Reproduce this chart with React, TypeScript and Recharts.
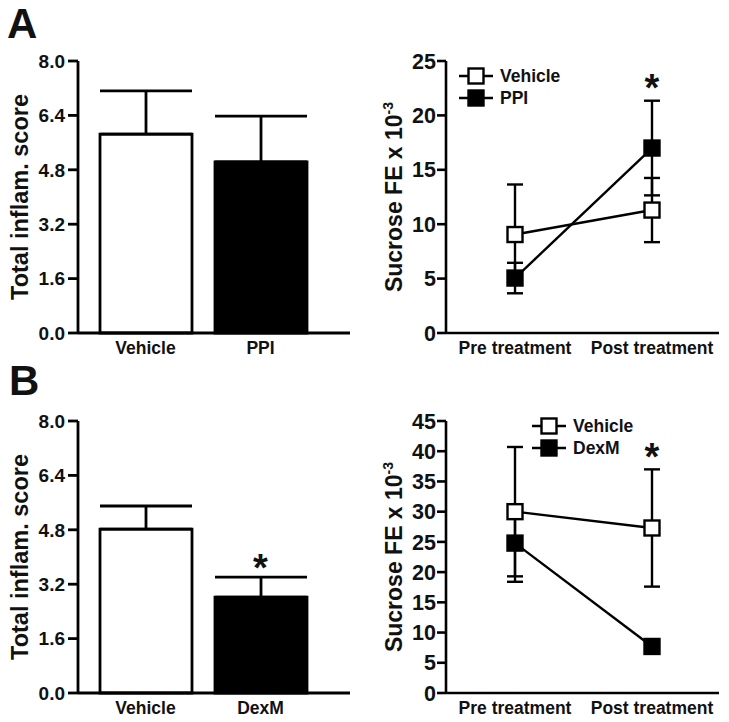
import React from 'react';
import {
  BarChart, Bar, Cell, XAxis, YAxis, ErrorBar, ReferenceDot,
  LineChart, Line, Legend, Label,
} from 'recharts';

// ---------------- data ----------------
// Panel A – inflammation score (bar)
const groupsA = ['Vehicle', 'PPI'];
const inflamMeanA = [5.85, 5.03];
const inflamSemA = [1.27, 1.35];

// Panel B – inflammation score (bar)
const groupsB = ['Vehicle', 'DexM'];
const inflamMeanB = [4.82, 2.82];
const inflamSemB = [0.68, 0.59];
const inflamStarB = { group: 'DexM', y: 3.93 };

const inflamTicks = [0, 1.6, 3.2, 4.8, 6.4, 8.0];
const barFills = ['#ffffff', '#000000'];

// Sucrose FE (line)
const timepoints = ['Pre treatment', 'Post treatment'];

const sucVehicleA = [9.05, 11.3];
const sucVehicleSemA = [4.6, 2.95];
const sucPpiA = [5.05, 17.0];
const sucPpiSemA = [1.4, 4.35];
const sucTicksA = [0, 5, 10, 15, 20, 25];
const sucStarA = { time: 'Post treatment', y: 23.3 };

const sucVehicleB = [30.0, 27.3];
const sucVehicleSemB = [10.7, 9.7];
const sucDexmB = [24.8, 7.7];
const sucDexmSemB = [6.4, 0.6];
const sucTicksB = [0, 5, 10, 15, 20, 25, 30, 35, 40, 45];
const sucStarB = { time: 'Post treatment', y: 40.5 };

// ---------------- helpers ----------------
const FONT = '"Liberation Sans", Arial, Helvetica, sans-serif';
const INK = '#000000';

const buildBarData = (groups: string[], means: number[], sems: number[]) =>
  groups.map((g, i) => ({ group: g, mean: means[i], err: [0, sems[i]] }));

const buildLineData = (v: number[], vs: number[], d: number[], ds: number[]) =>
  timepoints.map((t, i) => ({ time: t, vehicle: v[i], vehicleErr: vs[i], drug: d[i], drugErr: ds[i] }));

const barDataA = buildBarData(groupsA, inflamMeanA, inflamSemA);
const barDataB = buildBarData(groupsB, inflamMeanB, inflamSemB);
const lineDataA = buildLineData(sucVehicleA, sucVehicleSemA, sucPpiA, sucPpiSemA);
const lineDataB = buildLineData(sucVehicleB, sucVehicleSemB, sucDexmB, sucDexmSemB);

const SQ = 15;
const squareDot = (fill: string) => (props: any) => {
  const { cx, cy, index } = props;
  if (cx == null || cy == null) return <g key={index} />;
  return (
    <rect key={index} x={cx - SQ / 2} y={cy - SQ / 2} width={SQ} height={SQ}
      fill={fill} stroke={INK} strokeWidth={2.4} />
  );
};

const makeLegend = (order: string[], fills: Record<string, string>) => (props: any) => {
  const payload = props.payload || [];
  const items = order.filter((n) => payload.some((p: any) => p.value === n));
  return (
    <div style={{ fontFamily: FONT }}>
      {items.map((name) => (
        <div key={name} style={{ display: 'flex', alignItems: 'center', height: 22 }}>
          <svg width={36} height={18} style={{ display: 'block' }}>
            <line x1={0} y1={9} x2={34} y2={9} stroke={INK} strokeWidth={2.5} />
            <rect x={9.5} y={1.5} width={15} height={15} fill={fills[name]} stroke={INK} strokeWidth={2.4} />
          </svg>
          <span style={{ marginLeft: 5, fontSize: 17.5, fontWeight: 'bold', color: '#111' }}>{name}</span>
        </div>
      ))}
    </div>
  );
};

const tickStyleBar = { fill: '#111', fontSize: 19, fontWeight: 'bold', fontFamily: FONT };
const tickStyleLine = { fill: '#111', fontSize: 21.5, fontWeight: 'bold', fontFamily: FONT };
const xTickStyle = { fill: '#111', fontSize: 17.5, fontWeight: 'bold', fontFamily: FONT };
const starLabel = { value: '*', position: 'center', dy: 8, fontSize: 38, fontWeight: 'bold', fill: '#111', fontFamily: FONT };

const CHART_H = 360;

function InflamChart({ data, star }: { data: any[]; star?: { group: string; y: number } }) {
  return (
    <BarChart width={360} height={CHART_H} data={data}
      margin={{ top: 61, right: 10, bottom: 0, left: 0 }}>
      <XAxis dataKey="group" type="category" height={27} padding={{ left: 10, right: 32 }}
        tickLine={false} tickSize={0} tickMargin={9} tick={xTickStyle}
        axisLine={{ stroke: INK, strokeWidth: 2.8 }} />
      <YAxis width={78} domain={[0, 8]} ticks={inflamTicks} interval={0}
        tickFormatter={(v: number) => v.toFixed(1)} tick={tickStyleBar}
        tickSize={10} tickMargin={3}
        tickLine={{ stroke: INK, strokeWidth: 2.8 }} axisLine={{ stroke: INK, strokeWidth: 2.8 }}>
        <Label value="Total inflam. score" angle={-90} position="insideLeft" offset={20}
          style={{ textAnchor: 'middle', fontSize: 23.5, fontWeight: 'bold', fill: '#111', fontFamily: FONT }} />
      </YAxis>
      <Bar dataKey="mean" barSize={92} stroke={INK} strokeWidth={2.8} isAnimationActive={false}>
        {data.map((_, i) => <Cell key={i} fill={barFills[i]} />)}
        <ErrorBar dataKey="err" width={46} stroke={INK} strokeWidth={2.8} direction="y" />
      </Bar>
      {star && (
        <ReferenceDot x={star.group} y={star.y} r={0} fill="none" stroke="none" label={starLabel} />
      )}
    </BarChart>
  );
}

const SucroseLabel = (props: any) => {
  const vb = props.viewBox || {};
  const cx = (vb.x || 0) + 42;
  const cy = (vb.y || 0) + (vb.height || 0) / 2;
  return (
    <text x={cx} y={cy} transform={`rotate(-90 ${cx} ${cy})`} textAnchor="middle"
      fill="#111" fontSize={23} fontWeight="bold" fontFamily={FONT}>
      Sucrose FE x 10<tspan dy={-9} fontSize={14}>-3</tspan>
    </text>
  );
};

function SucroseChart({ data, ticks, max, drugName, star }: any) {
  const legend = makeLegend(['Vehicle', drugName], { Vehicle: '#ffffff', [drugName]: '#000000' });
  return (
    <LineChart width={369} height={CHART_H} data={data}
      margin={{ top: 61, right: 10, bottom: 0, left: 0 }}>
      <XAxis dataKey="time" type="category" height={27} padding={{ left: 69, right: 67 }}
        tickLine={false} tickSize={0} tickMargin={9} tick={xTickStyle}
        axisLine={{ stroke: INK, strokeWidth: 2.6 }} />
      <YAxis width={86} domain={[0, max]} ticks={ticks} interval={0} tick={tickStyleLine}
        tickSize={9} tickMargin={1}
        tickLine={{ stroke: INK, strokeWidth: 2.6 }} axisLine={{ stroke: INK, strokeWidth: 2.6 }}>
        <Label content={SucroseLabel} position="insideLeft" />
      </YAxis>
      <Line dataKey="drug" name={drugName} stroke={INK} strokeWidth={2.4} isAnimationActive={false}
        dot={squareDot('#000000')} activeDot={false}>
        <ErrorBar dataKey="drugErr" width={8} stroke={INK} strokeWidth={2.4} direction="y" />
      </Line>
      <Line dataKey="vehicle" name="Vehicle" stroke={INK} strokeWidth={2.4} isAnimationActive={false}
        dot={squareDot('#ffffff')} activeDot={false}>
        <ErrorBar dataKey="vehicleErr" width={8} stroke={INK} strokeWidth={2.4} direction="y" />
      </Line>
      <ReferenceDot x={star.time} y={star.y} r={0} fill="none" stroke="none" label={starLabel} />
      <Legend layout="vertical" align="center" verticalAlign="middle" content={legend}
        wrapperStyle={{ left: drugName === 'PPI' ? 99 : 172, top: drugName === 'PPI' ? 65 : 55, width: 160 }} />
    </LineChart>
  );
}

export default function App() {
  return (
    <div style={{ position: 'absolute', left: 0, top: 0, width: 729, height: 722, background: '#fff', fontFamily: FONT }}>
      <div style={{ position: 'absolute', left: 0, top: 0 }}>
        <InflamChart data={barDataA} />
      </div>
      <div style={{ position: 'absolute', left: 360, top: 0 }}>
        <SucroseChart data={lineDataA} ticks={sucTicksA} max={25} drugName="PPI" star={sucStarA} />
      </div>
      <div style={{ position: 'absolute', left: 0, top: 360 }}>
        <InflamChart data={barDataB} star={inflamStarB} />
      </div>
      <div style={{ position: 'absolute', left: 360, top: 360 }}>
        <SucroseChart data={lineDataB} ticks={sucTicksB} max={45} drugName="DexM" star={sucStarB} />
      </div>
      <svg width={729} height={722} style={{ position: 'absolute', left: 0, top: 0, pointerEvents: 'none' }}>
        <text x={7} y={38} fontSize={42} fontWeight="bold" fill="#111" fontFamily={FONT}>A</text>
        <text x={9} y={395} fontSize={42} fontWeight="bold" fill="#111" fontFamily={FONT}>B</text>
      </svg>
    </div>
  );
}
